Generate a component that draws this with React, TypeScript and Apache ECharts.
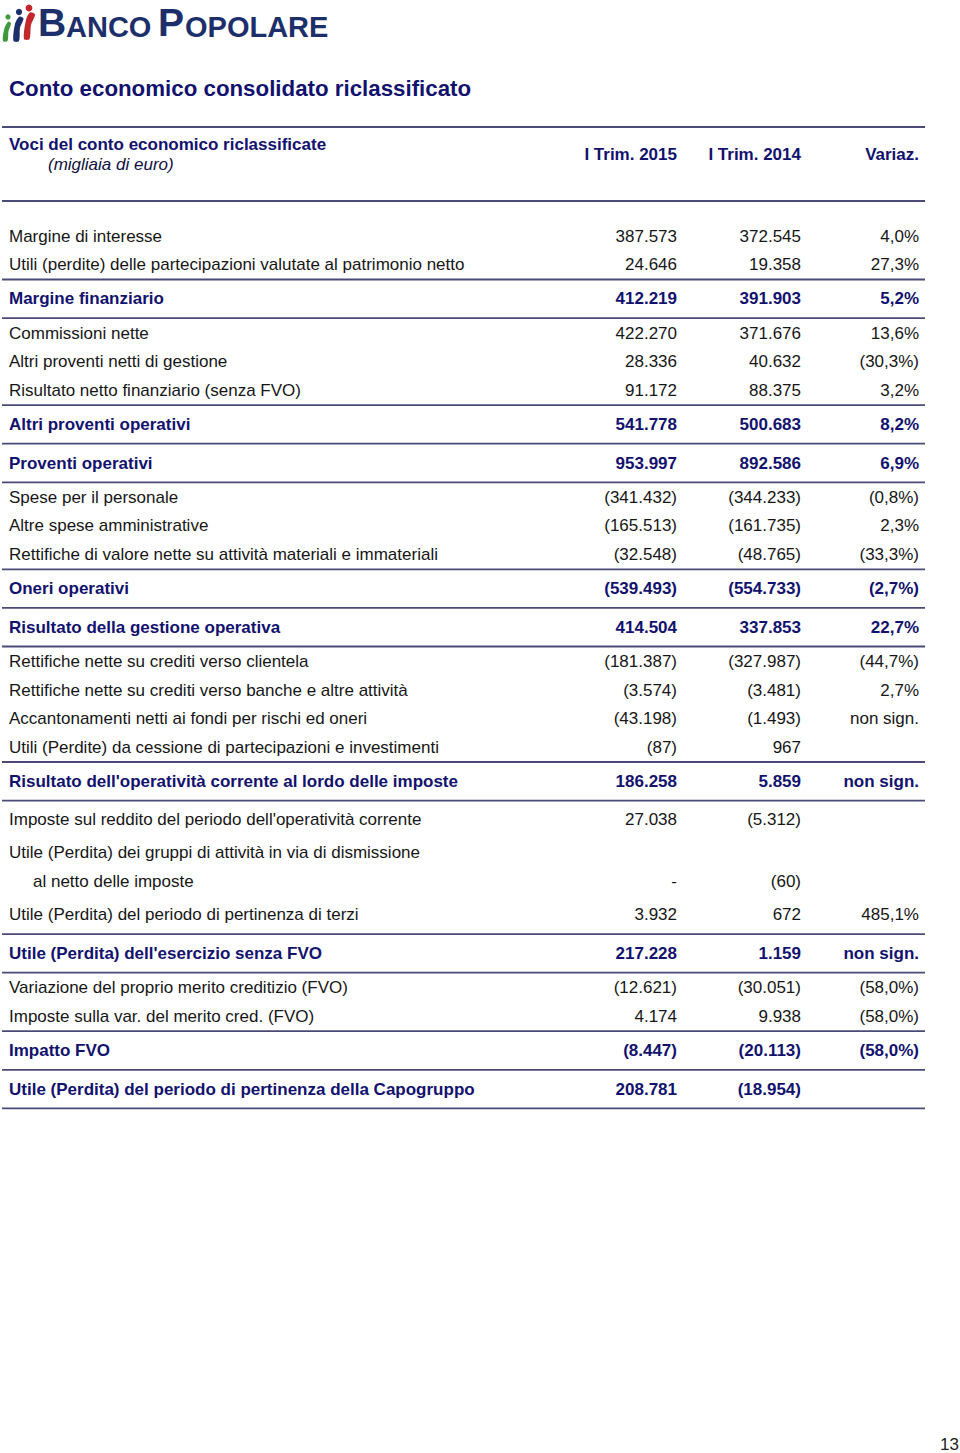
import React, { useEffect, useRef } from "react";
import * as echarts from "echarts";

const title = "Conto economico consolidato riclassificato";
const headerLabel = "Voci del conto economico riclassificate";
const headerUnit = "(migliaia di euro)";
const columnHeaders = ["I Trim. 2015", "I Trim. 2014", "Variaz."];

const labels = [
  "Margine di interesse",
  "Utili (perdite) delle partecipazioni valutate al patrimonio netto",
  "Margine finanziario",
  "Commissioni nette",
  "Altri proventi netti di gestione",
  "Risultato netto finanziario (senza FVO)",
  "Altri proventi operativi",
  "Proventi operativi",
  "Spese per il personale",
  "Altre spese amministrative",
  "Rettifiche di valore nette su attività materiali e immateriali",
  "Oneri operativi",
  "Risultato della gestione operativa",
  "Rettifiche nette su crediti verso clientela",
  "Rettifiche nette su crediti verso banche e altre attività",
  "Accantonamenti netti ai fondi per rischi ed oneri",
  "Utili (Perdite) da cessione di partecipazioni e investimenti",
  "Risultato dell'operatività corrente al lordo delle imposte",
  "Imposte sul reddito del periodo dell'operatività corrente",
  "Utile (Perdita) dei gruppi di attività in via di dismissione",
  "al netto delle imposte",
  "Utile (Perdita) del periodo di pertinenza di terzi",
  "Utile (Perdita) dell'esercizio senza FVO",
  "Variazione del proprio merito creditizio (FVO)",
  "Imposte sulla var. del merito cred. (FVO)",
  "Impatto FVO",
  "Utile (Perdita) del periodo di pertinenza della Capogruppo",
];

const values2015 = [
  "387.573", "24.646", "412.219", "422.270", "28.336", "91.172", "541.778", "953.997",
  "(341.432)", "(165.513)", "(32.548)", "(539.493)", "414.504", "(181.387)", "(3.574)",
  "(43.198)", "(87)", "186.258", "27.038", "", "-", "3.932", "217.228", "(12.621)",
  "4.174", "(8.447)", "208.781",
];

const values2014 = [
  "372.545", "19.358", "391.903", "371.676", "40.632", "88.375", "500.683", "892.586",
  "(344.233)", "(161.735)", "(48.765)", "(554.733)", "337.853", "(327.987)", "(3.481)",
  "(1.493)", "967", "5.859", "(5.312)", "", "(60)", "672", "1.159", "(30.051)",
  "9.938", "(20.113)", "(18.954)",
];

const variations = [
  "4,0%", "27,3%", "5,2%", "13,6%", "(30,3%)", "3,2%", "8,2%", "6,9%",
  "(0,8%)", "2,3%", "(33,3%)", "(2,7%)", "22,7%", "(44,7%)", "2,7%",
  "non sign.", "", "non sign.", "", "", "", "485,1%", "non sign.", "(58,0%)",
  "(58,0%)", "(58,0%)", "",
];

// n = normal, b = bold subtotal (ruled above and below), i = indented continuation
const kinds = [
  "n", "n", "b", "n", "n", "n", "b", "b", "n", "n", "n", "b", "b", "n", "n", "n", "n",
  "b", "n", "n", "i", "n", "b", "n", "n", "b", "b",
];

const pageNumber = "13";

const NAVY = "#12126e";
const TEXT = "#161616";
const RULE = "#4a4a78";
const LOGO = "#1c2f6b";
const FONT = '"Liberation Sans", Arial, sans-serif';

function App() {
  const ref = useRef<HTMLDivElement>(null);

  useEffect(() => {
    document.body.style.margin = "0";
    if (!ref.current) return;
    const chart = echarts.init(ref.current, undefined, { renderer: "svg" });

    const X0 = 2;
    const X1 = 925;
    const LABEL_X = 9;
    const COLS = [677, 801, 919];
    const N = 28.5; // normal row spacing
    const A = 15; // normal row <-> rule
    const B = 19.3; // bold row <-> rule
    const extra: Record<number, number> = { 18: 4, 19: 4.5, 21: 4.5, 22: 5 };

    const elements: any[] = [];
    const rule = (y: number) =>
      elements.push({
        type: "line",
        shape: { x1: X0, y1: y, x2: X1, y2: y },
        style: { stroke: RULE, lineWidth: 1.8 },
        silent: true,
      });
    const text = (
      t: string,
      x: number,
      y: number,
      opts: { bold?: boolean; italic?: boolean; size?: number; color?: string; align?: string; valign?: string }
    ) =>
      elements.push({
        type: "text",
        x,
        y,
        silent: true,
        style: {
          text: t,
          font: `${opts.italic ? "italic " : ""}${opts.bold ? "bold " : ""}${opts.size || 17}px ${FONT}`,
          fill: opts.color || TEXT,
          align: opts.align || "left",
          verticalAlign: opts.valign || "middle",
          textAlign: opts.align || "left",
          textVerticalAlign: opts.valign || "middle",
        },
      });

    // Logo figures
    const figs = [
      { color: "#3c9a3c", hx: 8, hy: 17, r: 2.6, body: [[3, 41], [4.5, 28], [8.5, 21.5], [11, 23.5], [8.5, 31], [7.5, 41]] },
      { color: LOGO, hx: 19, hy: 12, r: 3.1, body: [[13.5, 41], [15, 24], [19.5, 16.5], [23.5, 18.5], [20, 28], [19, 41]] },
      { color: "#c3262b", hx: 29, hy: 8, r: 3.4, body: [[24, 39], [26, 20], [30, 12.5], [35, 14.5], [31, 25], [29.5, 39]] },
    ];
    figs.forEach((f) => {
      elements.push({ type: "circle", shape: { cx: f.hx, cy: f.hy, r: f.r }, style: { fill: f.color }, silent: true });
      elements.push({ type: "polygon", shape: { points: f.body, smooth: 0.3 }, style: { fill: f.color }, silent: true });
    });
    // Logo wordmark (small caps), baseline near y = 37
    const BIG = 39;
    const SMALL = 29;
    const logoParts: [string, number, number][] = [
      ["B", 38, BIG],
      ["ANCO", 66, SMALL],
      ["P", 158, BIG],
      ["OPOLARE", 185, SMALL],
    ];
    logoParts.forEach(([t, x, s]) =>
      text(t, x, 37 - s * 0.36, { bold: true, size: s, color: LOGO })
    );

    // Title
    text(title, LABEL_X, 88, { bold: true, size: 22.3, color: NAVY });

    // Header
    rule(127);
    text(headerLabel, LABEL_X, 144, { bold: true, color: NAVY });
    text(headerUnit, 48, 164, { italic: true, color: "#101040" });
    columnHeaders.forEach((h, k) => text(h, COLS[k], 154, { bold: true, color: NAVY, align: "right" }));
    rule(201);

    // Rows
    let prevY = 0;
    let lastRule = 0;
    let prevBold = false;
    labels.forEach((label, i) => {
      const kind = kinds[i];
      const isBold = kind === "b";
      const ex = extra[i] || 0;
      let y: number;
      if (i === 0) {
        y = 236;
      } else if (isBold) {
        if (prevBold) {
          y = lastRule + B;
        } else {
          lastRule = prevY + A + ex;
          rule(lastRule);
          y = lastRule + B;
        }
      } else {
        y = prevBold ? lastRule + A + ex : prevY + N + ex;
      }
      if (isBold) {
        lastRule = y + B;
        rule(lastRule);
      }
      const color = isBold ? NAVY : TEXT;
      text(label, kind === "i" ? 33 : LABEL_X, y, { bold: isBold, color });
      [values2015[i], values2014[i], variations[i]].forEach((v, k) => {
        if (v) text(v, COLS[k], y, { bold: isBold, color, align: "right" });
      });
      prevY = y;
      prevBold = isBold;
    });

    text(pageNumber, 959, 1444, { size: 17, color: "#222", align: "right" });

    chart.setOption({
      animation: false,
      backgroundColor: "#ffffff",
      graphic: { elements },
    });

    return () => chart.dispose();
  }, []);

  return <div ref={ref} style={{ width: 960, height: 1453 }} />;
}

export default App;
